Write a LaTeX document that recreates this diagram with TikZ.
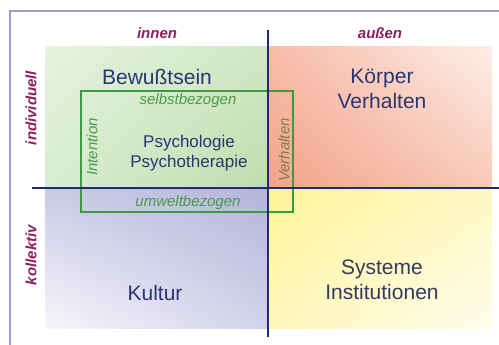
\documentclass[tikz,border=0pt]{standalone}
\usepackage{fontspec}
\setmainfont{Liberation Sans}
\usetikzlibrary{shadings}
\definecolor{navy}{HTML}{1F2D6E}
\definecolor{txt}{HTML}{2B3570}
\definecolor{lab}{HTML}{8C2060}
\definecolor{grn}{HTML}{3C9A40}
\definecolor{grntxt}{HTML}{4A9A4A}
\definecolor{oltxt}{HTML}{807A4A}
\definecolor{frame}{HTML}{9C9CC8}
\definecolor{gUL}{HTML}{E6F2DE}\definecolor{gUR}{HTML}{D0E8C4}\definecolor{gLL}{HTML}{D8ECD0}\definecolor{gLR}{HTML}{BEDEAE}
\definecolor{rUL}{HTML}{F7BCA8}\definecolor{rUR}{HTML}{FDEEE8}\definecolor{rLL}{HTML}{F3A28A}\definecolor{rLR}{HTML}{F8CAB8}
\definecolor{bUL}{HTML}{CACAE6}\definecolor{bUR}{HTML}{B4B4DC}\definecolor{bLL}{HTML}{F6F6FB}\definecolor{bLR}{HTML}{D2D2EA}
\definecolor{yUL}{HTML}{FFF498}\definecolor{yUR}{HTML}{FFF8C4}\definecolor{yLL}{HTML}{FFF6BC}\definecolor{yLR}{HTML}{FFFDEC}
\tikzset{
  axislabel/.style={text=lab, font=\fontsize{15}{18}\selectfont\bfseries\itshape, inner sep=0pt},
  bigtext/.style={text=txt, font=\fontsize{21}{25.5}\selectfont, align=center, inner sep=0pt},
  midtext/.style={text=txt, font=\fontsize{17}{20}\selectfont, align=center, inner sep=0pt},
  greentext/.style={text=grntxt, font=\fontsize{15}{18}\selectfont\itshape, inner sep=0pt},
  axisline/.style={draw=navy, line width=2.6pt},
  greenbox/.style={draw=grn, line width=1.8pt},
}
\begin{document}
\begin{tikzpicture}[x=1pt,y=-1pt]
\useasboundingbox (0,0) rectangle (499,345);
\fill[white] (0,0) rectangle (499,345);
% frame
\draw[frame, line width=2.2pt] (10,345) -- (10,11) -- (499,11);
% quadrants
\shade[upper left=gUL, upper right=gUR, lower left=gLL, lower right=gLR] (45,47) rectangle (268,188);
\shade[upper left=rUL, upper right=rUR, lower left=rLL, lower right=rLR] (268,47) rectangle (492,188);
\shade[upper left=bUL, upper right=bUR, lower left=bLL, lower right=bLR] (45,188) rectangle (268,328);
\shade[upper left=yUL, upper right=yUR, lower left=yLL, lower right=yLR] (268,188) rectangle (492,328);
% green box
\coordinate (g1) at (81,91);
\coordinate (g2) at (293,212);
\draw[greenbox] (g1) rectangle (g2);
% axes
\coordinate (vt) at (268,30);
\coordinate (vb) at (268,337);
\coordinate (hl) at (32,188);
\coordinate (hr) at (499,188);
\draw[axisline] (vt) -- (vb);
\draw[axisline] (hl) -- (hr);
% labels
\node[axislabel] (innen) at (157,33) {innen};
\node[axislabel] (aussen) at (380,33) {außen};
\node[axislabel, rotate=90] (indiv) at (31,108) {individuell};
\node[axislabel, rotate=90] (koll) at (31,255) {kollektiv};
% quadrant texts
\node[bigtext] (bew) at (157,77) {Bewußtsein};
\node[bigtext] (koerper) at (382,89) {Körper\\Verhalten};
\node[bigtext] (kultur) at (155,293) {Kultur};
\node[bigtext, text={rgb,255:red,52;green,58;blue,94}] (sys) at (382,280) {Systeme\\Institutionen};
\node[midtext] (psy) at (189,153) {Psychologie\\Psychotherapie};
\node[greentext] (selbst) at (188,101) {selbstbezogen};
\node[greentext] (umwelt) at (188,203) {umweltbezogen};
\node[greentext, rotate=90] (intent) at (92,147) {Intention};
\node[greentext, text=oltxt, rotate=90] (verh) at (284,150) {Verhalten};
\end{tikzpicture}
\end{document}
